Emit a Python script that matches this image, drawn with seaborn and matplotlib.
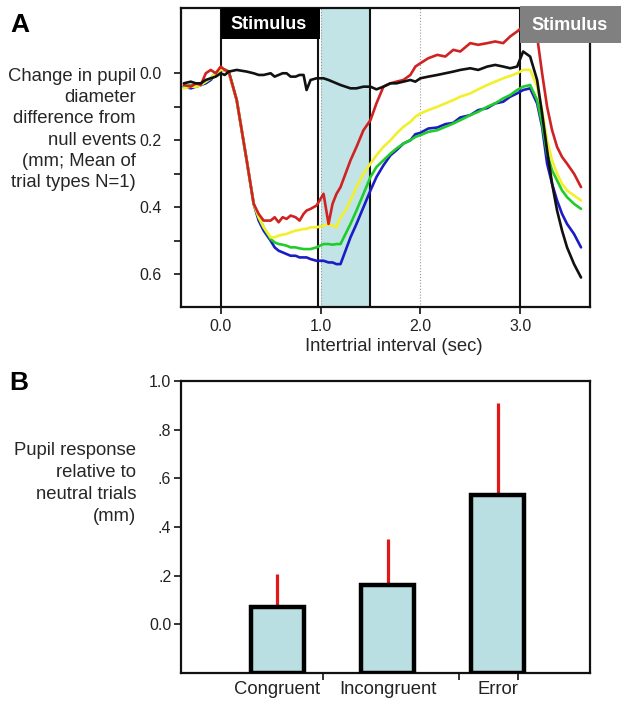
import numpy as np
import pandas as pd
import matplotlib
matplotlib.use('Agg')
import matplotlib.pyplot as plt
from matplotlib.patches import Rectangle
import seaborn as sns

# Panel A - pupil diameter traces (mm, plotted on an inverted axis)
t = [-0.37, -0.3, -0.25, -0.2, -0.15, -0.1, -0.05,
     0.0, 0.04, 0.08, 0.16, 0.26, 0.33, 0.38, 0.43,
     0.5, 0.54, 0.58, 0.62, 0.66, 0.7, 0.75, 0.79,
     0.83, 0.86, 0.9, 0.96, 1.03, 1.08, 1.12, 1.16,
     1.2, 1.25, 1.3, 1.36, 1.43, 1.5, 1.56, 1.63,
     1.7, 1.76, 1.83, 1.9, 1.95, 2.0, 2.08, 2.17,
     2.25, 2.33, 2.4, 2.5, 2.58, 2.67, 2.75, 2.83,
     2.9, 2.97, 3.03, 3.1, 3.17, 3.22, 3.27, 3.32,
     3.37, 3.42, 3.47, 3.54, 3.61]

blue = [0.04, 0.045, 0.04, 0.035, 0.03, 0.02, 0.0,
        -0.01, -0.01, -0.005, 0.08, 0.26, 0.39, 0.44, 0.47,
        0.5, 0.52, 0.53, 0.535, 0.54, 0.545, 0.545, 0.55,
        0.55, 0.55, 0.555, 0.56, 0.56, 0.565, 0.565, 0.57,
        0.57, 0.53, 0.49, 0.45, 0.40, 0.35, 0.31, 0.275,
        0.245, 0.23, 0.21, 0.2, 0.182, 0.178, 0.165, 0.162,
        0.152, 0.148, 0.132, 0.125, 0.11, 0.104, 0.09, 0.085,
        0.07, 0.06, 0.05, 0.045, 0.09, 0.16, 0.27, 0.33,
        0.38, 0.42, 0.45, 0.48, 0.52]
green = [0.04, 0.035, 0.04, 0.035, 0.025, 0.015, 0.0,
         -0.01, -0.012, -0.005, 0.08, 0.26, 0.39, 0.43, 0.46,
         0.495, 0.505, 0.51, 0.512, 0.515, 0.52, 0.52, 0.523,
         0.525, 0.525, 0.525, 0.52, 0.51, 0.51, 0.512, 0.51,
         0.51, 0.48, 0.45, 0.41, 0.36, 0.31, 0.28, 0.26,
         0.24, 0.225, 0.21, 0.2, 0.19, 0.185, 0.175, 0.17,
         0.16, 0.15, 0.14, 0.125, 0.115, 0.1, 0.09, 0.075,
         0.065, 0.05, 0.04, 0.035, 0.08, 0.15, 0.24, 0.29,
         0.32, 0.35, 0.37, 0.39, 0.405]
yellow = [0.045, 0.04, 0.04, 0.035, 0.025, 0.015, 0.0,
          -0.01, -0.01, 0.0, 0.08, 0.26, 0.39, 0.43, 0.46,
          0.49, 0.49, 0.485, 0.482, 0.48, 0.475, 0.47, 0.468,
          0.465, 0.465, 0.46, 0.46, 0.455, 0.45, 0.455, 0.46,
          0.43, 0.41, 0.38, 0.34, 0.30, 0.27, 0.245, 0.22,
          0.2, 0.18, 0.16, 0.145, 0.13, 0.12, 0.11, 0.1,
          0.09, 0.08, 0.07, 0.06, 0.048, 0.035, 0.025, 0.015,
          0.008, 0.0, -0.01, -0.01, 0.04, 0.11, 0.2, 0.26,
          0.3, 0.33, 0.35, 0.365, 0.38]
red = [0.035, 0.04, 0.03, 0.035, 0.0, -0.01, 0.0,
       -0.02, -0.01, -0.005, 0.08, 0.26, 0.39, 0.42, 0.44,
       0.44, 0.43, 0.445, 0.43, 0.435, 0.425, 0.43, 0.44,
       0.42, 0.41, 0.405, 0.395, 0.36, 0.45, 0.39, 0.36,
       0.34, 0.3, 0.26, 0.22, 0.17, 0.14, 0.09, 0.04,
       0.03, 0.025, 0.02, 0.005, -0.02, -0.03, -0.045, -0.055,
       -0.05, -0.07, -0.065, -0.09, -0.085, -0.09, -0.095, -0.09,
       -0.11, -0.125, -0.14, -0.13, -0.11, 0.0, 0.1, 0.17,
       0.22, 0.25, 0.27, 0.3, 0.34]
black = [0.03, 0.025, 0.03, 0.03, 0.02, 0.015, 0.01,
         0.0, 0.005, -0.005, -0.01, -0.005, 0.0, 0.005, 0.005,
         0.0, 0.01, 0.005, 0.0, 0.0, 0.01, 0.01, 0.005,
         0.005, 0.05, 0.02, 0.015, 0.015, 0.02, 0.025, 0.03,
         0.035, 0.04, 0.045, 0.045, 0.04, 0.04, 0.048, 0.04,
         0.03, 0.03, 0.025, 0.02, 0.025, 0.015, 0.01, 0.005,
         0.0, -0.005, -0.01, -0.015, -0.01, -0.02, -0.025, -0.02,
         -0.015, -0.02, -0.065, -0.05, 0.02, 0.12, 0.23, 0.33,
         0.41, 0.47, 0.52, 0.57, 0.61]

trace_names = ['blue', 'green', 'yellow', 'red', 'black']
trace_colors = ['#1c1cc4', '#1fcc2a', '#f2f02c', '#d02222', '#111111']

# Panel B - pupil response by trial type
conditions = ['Congruent', 'Incongruent', 'Error']
response = [0.07, 0.16, 0.53]
response_err = [0.135, 0.19, 0.38]

sns.set_theme(style='ticks')
plt.rcParams['font.family'] = ['Liberation Sans', 'DejaVu Sans']
plt.rcParams['axes.edgecolor'] = '#111111'
plt.rcParams['text.color'] = '#222222'
plt.rcParams['xtick.color'] = '#111111'
plt.rcParams['ytick.color'] = '#111111'
plt.rcParams['xtick.labelcolor'] = '#222222'
plt.rcParams['ytick.labelcolor'] = '#222222'

traces = pd.concat([pd.DataFrame({'t': t, 'diam': vals, 'cond': name})
                    for name, vals in zip(trace_names, [blue, green, yellow, red, black])])

fig = plt.figure(figsize=(6.21, 7.01), dpi=100)
axA = fig.add_axes([0.2915, 0.5621, 0.6586, 0.4265])
axB = fig.add_axes([0.2915, 0.0399, 0.6586, 0.4165])

# ---- panel A ----
shade = '#c2e4e7'
axA.axvspan(1.0, 1.5, color=shade, lw=0, zorder=0)
for xv in [1.0, 2.0]:
    axA.axvline(xv, color='#999999', lw=0.8, ls=':', zorder=1)
for xv in [0.0, 0.97, 1.5, 3.0]:
    axA.axvline(xv, color='#111111', lw=1.5, zorder=1)

sns.lineplot(data=traces, x='t', y='diam', hue='cond', hue_order=trace_names,
             palette=trace_colors, estimator=None, sort=False, legend=False,
             linewidth=1.9, ax=axA, zorder=3)

axA.set_xlim(-0.398, 3.70)
axA.set_ylim(0.698, -0.195)
axA.set_xticks([0, 1, 2, 3])
axA.set_xticklabels(['0.0', '1.0', '2.0', '3.0'])
axA.set_yticks([0.0, 0.2, 0.4, 0.6])
axA.set_yticklabels(['0.0', '0.2', '0.4', '0.6'])
axA.set_yticks([0.1, 0.3, 0.5], minor=True)
axA.tick_params(axis='both', which='both', direction='out', length=5, width=1.2, labelsize=11.5)
axA.tick_params(axis='y', which='major', pad=9)
axA.tick_params(axis='x', pad=4)
for s in axA.spines.values():
    s.set_linewidth(1.6)

axA.set_xlabel('Intertrial interval (sec)', fontsize=13.3)
axA.xaxis.set_label_coords(0.52, -0.105)
axA.set_ylabel('Change in pupil\ndiameter\ndifference from\nnull events\n(mm; Mean of\ntrial types N=1)',
               rotation=0, ha='right', va='center', multialignment='right', fontsize=13.3,
               linespacing=1.33)
axA.yaxis.set_label_coords(-0.110, 0.594)

# stimulus boxes
axA.add_patch(Rectangle((0.0, -0.195), 0.995, 0.0935, facecolor='black', edgecolor='none',
                        zorder=5, clip_on=False))
axA.text(0.48, -0.146, 'Stimulus', color='white', fontsize=13, fontweight='bold',
         ha='center', va='center', zorder=6)
axA.add_patch(Rectangle((3.0, -0.20), 1.05, 0.109, facecolor='#808080', edgecolor='none',
                        zorder=5, clip_on=False))
axA.text(3.5, -0.144, 'Stimulus', color='white', fontsize=13, fontweight='bold',
         ha='center', va='center', zorder=6, clip_on=False)

# ---- panel B ----
ybot = -0.2
sns.barplot(x=conditions, y=np.array(response) - ybot, bottom=ybot, color='#b9dfe2',
            edgecolor='black', linewidth=3.2, width=0.48, saturation=1, ax=axB, zorder=3)
axB.errorbar(range(len(conditions)), response, yerr=[np.zeros(len(response)), response_err],
             fmt='none', ecolor='#e01818', elinewidth=2.3, capsize=0, zorder=2)

axB.set_xlim(-0.873, 2.836)
axB.set_ylim(ybot, 1.0)
axB.set_yticks([0.0, 0.2, 0.4, 0.6, 0.8, 1.0])
axB.set_yticklabels(['0.0', '.2', '.4', '.6', '.8', '1.0'])
axB.set_xticks([0.418, 1.645, 2.18], minor=True)
axB.tick_params(axis='x', which='major', length=0, labelsize=13.3, pad=6)
axB.tick_params(axis='x', which='minor', direction='out', length=5, width=1.2)
axB.tick_params(axis='y', direction='out', length=5, width=1.2, labelsize=11.5, pad=2)
for s in axB.spines.values():
    s.set_linewidth(1.6)
axB.set_xlabel('')
axB.set_ylabel('Pupil response\nrelative to\nneutral trials\n(mm)', rotation=0, ha='right',
               va='center', multialignment='right', fontsize=13.3, linespacing=1.38)
axB.yaxis.set_label_coords(-0.110, 0.649)

fig.text(10 / 621, 1 - 32 / 701, 'A', fontsize=19, fontweight='bold', color='black')
fig.text(9 / 621, 1 - 390 / 701, 'B', fontsize=19, fontweight='bold', color='black')

fig.savefig('out.png', dpi=100)
